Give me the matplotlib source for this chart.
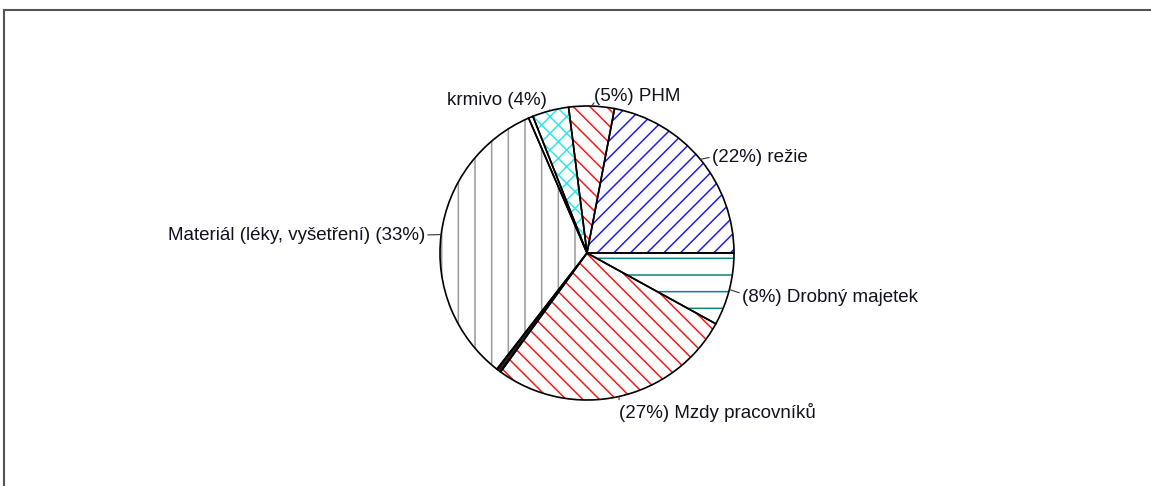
import numpy as np
import matplotlib.pyplot as plt
from matplotlib.lines import Line2D

plt.rcParams['font.family'] = ['Liberation Sans', 'DejaVu Sans']
plt.rcParams['hatch.linewidth'] = 1.1

# slices, counterclockwise from 3 o'clock
names = ['režie', 'PHM', 'krmivo', 'ostatní', 'Materiál (léky, vyšetření)',
         'ostatní 2', 'Mzdy pracovníků', 'Drobný majetek']
values = [22, 5, 4, 0.5, 33, 0.5, 27, 8]
shown = [True, True, True, False, True, False, True, True]
name_first = [False, False, True, False, True, False, False, False]

fills = ['white', 'white', 'white', 'white', 'white', '#222222', 'white', 'white']
hatch_cols = ['#2020e8', '#f41c1c', '#30e8e8', '#b030c0', '#9a9a9a', '#222222', '#f41c1c', '#128080']
hatches = ['//', '\\\\', 'xx', '', '|', '', '\\\\', '-']

# label text positions in pixels (layout only)
label_px = {0: (712, 157), 1: (594, 96), 2: (547, 100), 4: (425, 235),
            6: (619, 412), 7: (742, 297)}
relpos = {0: (0, 0.5), 1: (0, 0.1), 2: (1, 0.1), 4: (1, 0.5),
          6: (0, 0.9), 7: (0, 0.7)}

W, H = 1151, 486
fig = plt.figure(figsize=(W / 100, H / 100), dpi=100)

cx, cy, half = 587, 253, 150
ax = fig.add_axes([(cx - half) / W, (H - cy - half) / H, 2 * half / W, 2 * half / H])
R = 147 / half

# hatched fills (hatch takes the edge colour, so draw outlines separately)
wedges, _ = ax.pie(values, startangle=0, counterclock=True, radius=R,
                   colors=fills)
for w, hc, h in zip(wedges, hatch_cols, hatches):
    w.set_hatch(h)
    w.set_edgecolor(hc)
    w.set_linewidth(0)

outl, _ = ax.pie(values, startangle=0, counterclock=True, radius=R,
                 wedgeprops=dict(fill=False, edgecolor='black', linewidth=1.2))

total = sum(values)
start = 0.0
for i, v in enumerate(values):
    mid = start + v / total * 180.0
    start += v / total * 360.0
    if not shown[i]:
        continue
    pct = '(%d%%)' % round(v / total * 100)
    txt = f'{names[i]} {pct}' if name_first[i] else f'{pct} {names[i]}'
    a = np.deg2rad(mid)
    px, py = label_px[i]
    tx, ty = (px - cx) / half, (cy - py) / half
    ax.annotate(txt, xy=(R * np.cos(a), R * np.sin(a)), xytext=(tx, ty),
                ha='right' if name_first[i] else 'left', va='center',
                fontsize=13.5, color='#111122', annotation_clip=False,
                arrowprops=dict(arrowstyle='-', color='#333333', lw=0.8,
                                shrinkA=0, shrinkB=0, relpos=relpos[i]))

ax.set_xlim(-1, 1)
ax.set_ylim(-1, 1)
ax.set_aspect('equal')
ax.axis('off')

# frame around the chart area
fig.add_artist(Line2D([4 / W, 1], [1 - 10 / H, 1 - 10 / H], color='#555555', lw=1.5))
fig.add_artist(Line2D([4 / W, 4 / W], [0, 1 - 10 / H], color='#555555', lw=1.5))

fig.savefig('out.png', dpi=100)
